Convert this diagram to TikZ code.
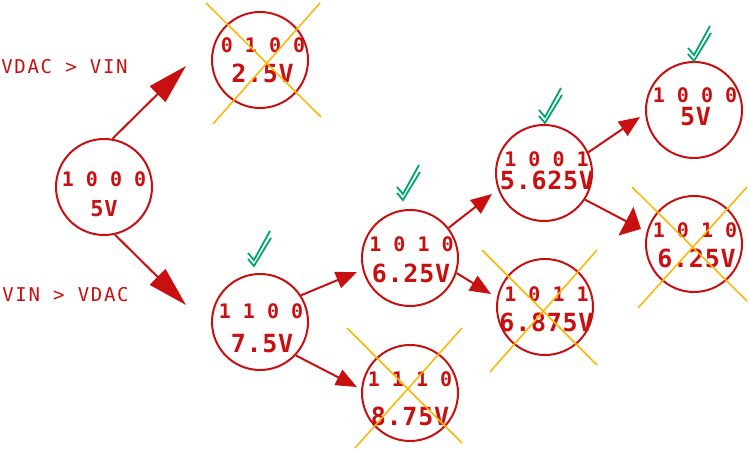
\documentclass[tikz,border=0pt]{standalone}
\usepackage{fontspec}
\setmonofont{DejaVu Sans Mono}
\newfontfamily\labelfont[LetterSpace=9]{DejaVu Sans Mono}
\newfontfamily\voltfont[LetterSpace=3]{DejaVu Sans Mono}
\usetikzlibrary{arrows.meta,calc}
\definecolor{dred}{RGB}{200,16,16}
\definecolor{xorange}{RGB}{255,180,0}
\definecolor{okgreen}{RGB}{0,166,110}
\tikzset{
  okmark/.pic={
    \draw[okline] (-6,-7) -- (0,0) -- (17,-28);
    \draw[okline] (-6,-13) -- (0,-6) -- (16,-35);
  }
}
\begin{document}
\begin{tikzpicture}[x=1pt,y=-1pt,
  state/.style={circle,draw=dred,line width=2pt,minimum size=96pt,inner sep=0pt},
  bits/.style={anchor=base,text=dred,font=\ttfamily\bfseries\fontsize{20}{20}\selectfont,inner sep=0pt},
  volt/.style={anchor=base,text=dred,font=\voltfont\bfseries\fontsize{25}{25}\selectfont,inner sep=0pt},
  cond/.style={anchor=base,text=dred,font=\labelfont\fontsize{19}{19}\selectfont,inner sep=0pt},
  bigarrow/.style={draw=dred,line width=2pt,-{Triangle[length=40pt,width=22pt]}},
  smallarrow/.style={draw=dred,line width=2pt,-{Triangle[length=21pt,width=17pt]}},
  widearrow/.style={draw=dred,line width=2pt,-{Triangle[length=17pt,width=32pt]}},
  xline/.style={draw=xorange,line width=1.5pt},
  okline/.style={draw=okgreen,line width=1.8pt,line join=miter},
]
\useasboundingbox (0,0) rectangle (750,454);

% states
\node[state] (A) at (104,187) {};
\node[state] (B) at (260,60) {};
\node[state] (C) at (260,322) {};
\node[state] (D) at (410,258) {};
\node[state] (E) at (410,393) {};
\node[state] (F) at (544,173) {};
\node[state] (G) at (694,110) {};
\node[state] (H) at (545,307) {};
\node[state] (I) at (694,244) {};

% texts
\node[bits] (A1) at (104,187) {1 0 0 0};
\node[volt] (A2) at (104,217) {\fontsize{22}{22}\selectfont 5V};
\node[bits] (B1) at (263,53) {0 1 0 0};
\node[volt] (B2) at (262.5,83) {2.5V};
\node[bits] (C1) at (261,319) {1 1 0 0};
\node[volt] (C2) at (262,353) {7.5V};
\node[bits] (D1) at (411.5,252) {1 0 1 0};
\node[volt] (D2) at (411,283) {6.25V};
\node[bits] (E1) at (410,387) {1 1 1 0};
\node[volt] (E2) at (410,425) {8.75V};
\node[bits] (F1) at (546.5,167) {1 0 0 1};
\node[volt] (F2) at (547,190) {5.625V};
\node[bits] (G1) at (695,103) {1 0 0 0};
\node[volt] (G2) at (695.5,126) {5V};
\node[bits] (H1) at (546.5,302) {1 0 1 1};
\node[volt] (H2) at (546.5,332) {6.875V};
\node[bits] (I1) at (695,238) {1 0 1 0};
\node[volt] (I2) at (696.5,268) {6.25V};

\node[cond] (L1) at (64.5,74) {VDAC > VIN};
\node[cond] (L2) at (65.5,302) {VIN > VDAC};

% arrow tips
\coordinate (tAB) at (186,66);
\coordinate (tAC) at (186,305);
\coordinate (tCD) at (357,272);
\coordinate (tCE) at (357,387);
\coordinate (tDF) at (492,194);
\coordinate (tDH) at (491,294);
\coordinate (tFG) at (640,117);
\coordinate (tFI) at (641,229);

\draw[bigarrow] (A.80) -- (tAB);
\draw[bigarrow] (A.-77) -- (tAC);
\draw[smallarrow] (C.33) -- (tCD);
\draw[smallarrow] (C.-43) -- (tCE);
\draw[smallarrow] (D.38) -- (tDF);
\draw[smallarrow] (D.-18) -- (tDH);
\draw[smallarrow] (F.25) -- (tFG);
\draw[widearrow] (F.-33) -- (tFI);

% crosses
\draw[xline] ([shift={(-54,-57)}]B.center) -- ([shift={(61,57)}]B.center);
\draw[xline] ([shift={(-47,64)}]B.center) -- ([shift={(60,-57)}]B.center);
\draw[xline] ([shift={(-63,-65)}]E.center) -- ([shift={(52,50)}]E.center);
\draw[xline] ([shift={(-55,55)}]E.center) -- ([shift={(52,-65)}]E.center);
\draw[xline] ([shift={(-63,-57)}]H.center) -- ([shift={(52,58)}]H.center);
\draw[xline] ([shift={(-55,65)}]H.center) -- ([shift={(52,-57)}]H.center);
\draw[xline] ([shift={(-62,-57)}]I.center) -- ([shift={(53,57)}]I.center);
\draw[xline] ([shift={(-56,64)}]I.center) -- ([shift={(53,-57)}]I.center);

% check marks
\pic at (254,266) {okmark};
\pic at (403,200) {okmark};
\pic at (545,123) {okmark};
\pic at (694,61) {okmark};
\end{tikzpicture}
\end{document}
